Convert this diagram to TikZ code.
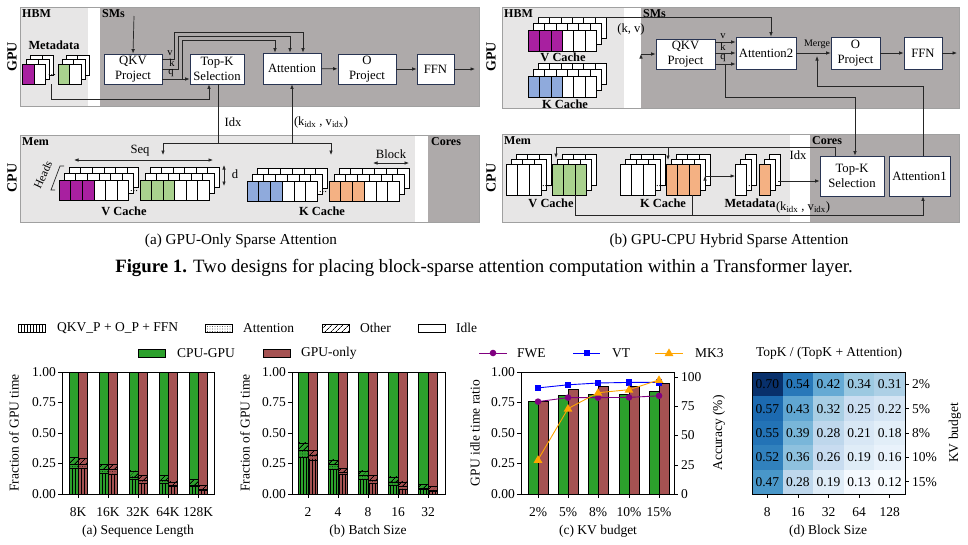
\documentclass[tikz,border=0pt]{standalone}
\usepackage{fontspec}
\setmainfont{Liberation Serif}
\usetikzlibrary{arrows.meta,patterns.meta}

\definecolor{gpudark}{RGB}{174,170,170}
\definecolor{memlight}{RGB}{231,230,230}
\definecolor{frameline}{RGB}{160,160,160}
\definecolor{boxline}{RGB}{40,52,82}
\definecolor{vpurple}{RGB}{168,32,160}
\definecolor{vgreen}{RGB}{169,209,142}
\definecolor{vblue}{RGB}{143,170,220}
\definecolor{vorange}{RGB}{244,177,131}
\definecolor{cpugpu}{RGB}{44,160,44}
\definecolor{gpuonly}{RGB}{165,82,82}
\definecolor{fwecol}{RGB}{128,0,128}
\definecolor{vtcol}{RGB}{0,0,255}
\definecolor{mkcol}{RGB}{255,165,0}

\tikzset{
  blk/.style={draw=boxline, fill=white, line width=0.8pt, align=center, inner sep=0pt, font=\fontsize{12.7}{15}\selectfont},
  tag/.style={font=\bfseries\fontsize{12}{12}\selectfont, inner sep=0pt},
  boldlbl/.style={font=\bfseries\fontsize{12.4}{13}\selectfont, inner sep=0pt},
  sidelbl/.style={font=\bfseries\fontsize{14}{14}\selectfont, rotate=90, inner sep=0pt},
  wire/.style={line width=0.7pt, draw=black!85},
  cell/.style={draw=black, line width=0.5pt},
  smalltxt/.style={font=\fontsize{10.5}{11}\selectfont, inner sep=0pt},
  plaintxt/.style={font=\fontsize{12.6}{13}\selectfont, inner sep=0pt},
  tickfont/.style={font=\fontsize{13.5}{14}\selectfont, inner sep=0pt},
  frameax/.style={draw=black, line width=0.8pt},
  barline/.style={draw=black, line width=0.5pt},
  hqkv/.style={pattern={Lines[angle=90,distance=3pt,line width=0.9pt]}},
  hatt/.style={pattern={Dots[distance=2.5pt,radius=0.45pt]}},
  hoth/.style={pattern={Lines[angle=45,distance=4pt,line width=0.8pt]}},
}

% stack of cache blocks: x, y, cell width, cell height, layer dx, layer dy, front colours
\newcommand{\cachestack}[7]{%
  \foreach \lay in {2,1}{%
    \foreach \cc [count=\i from 0] in {#7}{%
      \draw[cell,fill=white] ({#1+\i*#3+\lay*#5},{#2-\lay*#6}) rectangle +(#3,#4);
    }%
  }%
  \foreach \cc [count=\i from 0] in {#7}{%
    \draw[cell,fill=\cc] ({#1+\i*#3},{#2}) rectangle +(#3,#4);
  }%
}

% stacked bar: x0, x1, colour, qkv top, attention top, other top
\newcommand{\stackbar}[6]{%
  \fill[#3] ({#1},494) rectangle ({#2},372);
  \path[hqkv] ({#1},494) rectangle ({#2},{494-122*#4});
  \path[hatt] ({#1},{494-122*#4}) rectangle ({#2},{494-122*#5});
  \path[hoth] ({#1},{494-122*#5}) rectangle ({#2},{494-122*#6});
  \draw[barline] ({#1},494) rectangle ({#2},372);
  \draw[barline] ({#1},{494-122*#4}) -- ({#2},{494-122*#4});
  \draw[barline] ({#1},{494-122*#5}) -- ({#2},{494-122*#5});
  \draw[barline] ({#1},{494-122*#6}) -- ({#2},{494-122*#6});
}

\newcommand{\mkcirc}[2]{\fill[fwecol] (#1,#2) circle (3.3);}
\newcommand{\mksq}[2]{\fill[vtcol] ({#1-3.3},{#2-3.3}) rectangle +(6.6,6.6);}
\newcommand{\mktri}[2]{\fill[mkcol] (#1,{#2-4.6}) -- ({#1+4.4},{#2+3}) -- ({#1-4.4},{#2+3}) -- cycle;}

\begin{document}
\begin{tikzpicture}[x=1pt,y=-1pt,>={Latex[length=4.5pt,width=3.6pt]}]
    \useasboundingbox (0,0) rectangle (968,544);

    % ---------------- (a) GPU-only ----------------
    \fill[memlight] (20,7) rectangle (88,106);
    \fill[gpudark] (100,7) rectangle (479,106);
    \draw[frameline] (20,7) rectangle (479,106);
    \fill[memlight] (20,135) rectangle (415,222);
    \fill[gpudark] (428,135) rectangle (479,222);
    \draw[frameline] (20,135) rectangle (479,222);

    \node[sidelbl] (gpua) at (12,57) {GPU};
    \node[sidelbl] (cpua) at (12,178) {CPU};
    \node[tag, anchor=north west] (hbma) at (22,9) {HBM};
    \node[tag, anchor=north west] (smsa) at (102,9) {SMs};
    \node[tag, anchor=north west] (mema) at (22,137) {Mem};
    \node[tag, anchor=north west] (coresa) at (431,137) {Cores};
    \node[boldlbl] (metalbl) at (54,45) {Metadata};

    \cachestack{22}{64}{11.8}{20}{4}{4.5}{vpurple,white}
    \cachestack{58}{64}{11.5}{20}{4}{4.5}{vgreen,white}
    \node[smalltxt] (mdots) at (52,75) {...};
    \coordinate (meta) at (51,84);

    \node[blk, minimum width=58pt, minimum height=30pt] (qkv) at (133,69) {QKV\\Project};
    \node[blk, minimum width=54pt, minimum height=30pt] (topk) at (217,69) {Top-K\\Selection};
    \node[blk, minimum width=58pt, minimum height=31pt] (attn) at (292,68.5) {Attention};
    \node[blk, minimum width=58pt, minimum height=30pt] (oproj) at (367,69) {O\\Project};
    \node[blk, minimum width=37pt, minimum height=30pt] (ffn) at (435.5,69) {FFN};
    \coordinate (ina) at (134,16);
    \coordinate (outa) at (475,69);

    \draw[wire,->] (ina) -- (qkv.north);
    \draw[wire,->] ([yshift=10pt]qkv.east) -- ++(12,0) -- ++(0,-27) -| ([xshift=11pt]attn.north);
    \draw[wire,->] (qkv.east) -- ++(16,0) -- ++(0,-33) -| ([xshift=-2pt]attn.north);
    \draw[wire,->] ([yshift=-10pt]qkv.east) -- ([yshift=-10pt]topk.west);
    \draw[wire,->] ([xshift=20pt,yshift=-10pt]qkv.east) -- ++(0,-39) -| ([xshift=-17pt]attn.north);
    \node[smalltxt] (lva) at (170,53) {v};
    \node[smalltxt] (lka) at (172,63) {k};
    \node[smalltxt] (lqa) at (171,73) {q};
    \draw[wire,->] (meta) -- ++(0,15) -| ([xshift=-8pt]topk.south);
    \path [wire,->] (attn) edge (oproj);
    \path [wire,->] (oproj) edge (ffn);
    \path [wire,->] (ffn) edge (outa);

    \draw[wire] ([xshift=1pt]topk.south) -- ++(0,59) coordinate (split);
    \coordinate (vtgt) at (163,155);
    \coordinate (ktgt) at (331,155);
    \draw[wire,->] (split) -| (vtgt);
    \draw[wire,->] (split) -| (ktgt);
    \draw[wire,->] (attn.south |- split) -- (attn.south);
    \node[plaintxt] (idxa) at (233,122) {Idx};
    \node[plaintxt] (kva) at (321,122) {(k\textsubscript{idx} , v\textsubscript{idx})};

    % CPU caches
    \cachestack{59}{180}{11.6}{20}{5}{6.5}{vpurple,vpurple,vpurple,white,white,white}
    \cachestack{140}{180}{11.5}{20}{5}{6.5}{vgreen,vgreen,vgreen,white,white,white}
    \node[smalltxt] (vdots) at (134,191) {...};
    \cachestack{247}{181}{11.7}{20}{5}{6.5}{vblue,vblue,vblue,white,white,white}
    \cachestack{329}{181}{11.7}{20}{5}{6.5}{vorange,vorange,vorange,white,white,white}
    \node[smalltxt] (kdots) at (323,192) {...};
    \node[boldlbl] (vca) at (124,211) {V Cache};
    \node[boldlbl] (kca) at (322,211) {K Cache};

    \coordinate (seql) at (74,160);
    \coordinate (seqr) at (213,160);
    \draw[wire,<->] (seql) -- (seqr);
    \node[plaintxt] (seq) at (140,151) {Seq};
    \coordinate (dtop) at (224,165);
    \coordinate (dbot) at (224,186);
    \draw[wire,<->] (dtop) -- (dbot);
    \node[plaintxt] (dlbl) at (235,174) {d};
    \coordinate (blkl) at (373,163);
    \coordinate (blkr) at (409,163);
    \draw[wire,<->] (blkl) -- (blkr);
    \node[plaintxt] (blklbl) at (391,154) {Block};
    \draw[wire] (64,166) -- (60,166) -- (51,190) -- (55,190);
    \node[plaintxt, font=\fontsize{11.5}{12}\selectfont, rotate=65] (heads) at (43,175) {Heads};

    % ---------------- (b) GPU-CPU hybrid ----------------
    \fill[memlight] (502,7) rectangle (624,108);
    \fill[gpudark] (641,7) rectangle (959,108);
    \draw[frameline] (502,7) rectangle (959,108);
    \fill[memlight] (502,134) rectangle (790,222);
    \fill[gpudark] (810,134) rectangle (959,222);
    \draw[frameline] (502,134) rectangle (959,222);

    \node[sidelbl] (gpub) at (491,57) {GPU};
    \node[sidelbl] (cpub) at (491,178) {CPU};
    \node[tag, anchor=north west] (hbmb) at (504,9) {HBM};
    \node[tag, anchor=north west] (smsb) at (643,9) {SMs};
    \node[tag, anchor=north west] (memb) at (504,136) {Mem};
    \node[tag, anchor=north west] (coresb) at (812,136) {Cores};

    \cachestack{528}{30}{11.4}{21}{5}{6.5}{vpurple,vpurple,vpurple,white,white,white}
    \cachestack{528}{76}{11.4}{21}{5}{6.5}{vblue,vblue,vblue,white,white,white}
    \node[boldlbl] (vcb) at (563,57) {V Cache};
    \node[boldlbl] (kcb) at (565,104) {K Cache};
    \node[plaintxt] (kvb) at (631,29) {(k, v)};

    \node[blk, minimum width=59pt, minimum height=30pt] (qkv2) at (685.5,54) {QKV\\Project};
    \node[blk, minimum width=60pt, minimum height=32pt] (attn2) at (766,53) {Attention2};
    \node[blk, minimum width=49pt, minimum height=32pt] (oproj2) at (855.5,53) {O\\Project};
    \node[blk, minimum width=38pt, minimum height=32pt] (ffn2) at (923,53) {FFN};
    \node[blk, minimum width=64pt, minimum height=40pt] (topk2) at (852,176) {Top-K\\Selection};
    \node[blk, minimum width=61pt, minimum height=40pt] (attn1) at (919.5,176) {Attention1};

    \coordinate (vc2top) at (538,17);
    \coordinate (inb) at (641,54);
    \coordinate (outb) at (957,53);
    \coordinate (merge) at (817,56);
    \draw[wire,->] (vc2top) -| ([xshift=5pt]attn2.north);
    \path [wire,->] (inb) edge (qkv2.west);
    \draw[wire,->] ([yshift=12pt]qkv2.east) -- ([yshift=12pt]qkv2.east -| attn2.west);
    \draw[wire,->] ([yshift=1pt]qkv2.east) -- ([yshift=1pt]qkv2.east -| attn2.west);
    \draw[wire,->] ([yshift=-10pt]qkv2.east) -- ([yshift=-10pt]qkv2.east -| attn2.west);
    \node[smalltxt] (lvb) at (723,36) {v};
    \node[smalltxt] (lkb) at (723,47) {k};
    \node[smalltxt] (lqb) at (723,58) {q};
    \draw[wire,->] ([xshift=10pt,yshift=-10pt]qkv2.east) -- ++(0,33) -| ([xshift=3pt]topk2.north);
    \path [wire,->] (attn2) edge (oproj2);
    \path [wire,->] (oproj2) edge (ffn2);
    \path [wire,->] (ffn2) edge (outb);
    \node[font=\fontsize{10}{10}\selectfont, inner sep=0pt] (mergelbl) at (817,44) {Merge};
    \draw[wire,->] ([xshift=3.5pt]attn1.north) -- ++(0,-69) -| (merge);

    % CPU caches (b)
    \cachestack{506}{164}{11.7}{31}{5}{5}{white,white,white}
    \cachestack{552}{164}{11.5}{31}{5}{5}{vgreen,vgreen,vgreen}
    \node[smalltxt] (vdotsb) at (546,186) {...};
    \cachestack{620}{164}{11.7}{31}{5}{5}{white,white,white}
    \cachestack{666}{164}{11.5}{31}{5}{5}{vorange,vorange,vorange}
    \node[smalltxt] (kdotsb) at (660,186) {...};
    \cachestack{735}{164}{11}{31}{5}{5}{white}
    \cachestack{759}{164}{11}{31}{5}{5}{vorange}
    \node[smalltxt] (mdotsb) at (752,186) {...};
    \node[boldlbl] (vcc) at (551,203) {V Cache};
    \node[boldlbl] (kcc) at (663,203) {K Cache};
    \node[boldlbl] (mdb) at (750,203) {Metadata};
    \node[plaintxt] (kvidxb) at (803,207) {(k\textsubscript{idx} , v\textsubscript{idx})};

    \coordinate (kcr) at (705,176);
    \coordinate (mdl) at (735,176);
    \coordinate (mdr) at (778,181);
    \path [wire,->] (kcr) edge (mdl);
    \draw[wire,->] (mdr) -- ([yshift=-5pt]topk2.west);
    \coordinate (vc3) at (556,158);
    \coordinate (kc3) at (668,160);
    \draw[wire,->] ([xshift=-17pt]topk2.north) -- ++(0,-8) coordinate (idxy) -| (vc3);
    \draw[wire,->] (kc3 |- idxy) -- (kc3);
    \node[plaintxt] (idxb) at (798,155) {Idx};
    \coordinate (vc4) at (575,195);
    \coordinate (kc4) at (692,195);
    \draw[wire,->] (vc4) -- ++(0,20) -| ([xshift=3.5pt]attn1.south);
    \draw[wire] (kc4) -- ++(0,20);

    % ---------------- captions ----------------
    \node[font=\fontsize{15.2}{16}\selectfont] (capa) at (241,241) {(a) GPU-Only Sparse Attention};
    \node[font=\fontsize{15.2}{16}\selectfont] (capb) at (729,241) {(b) GPU-CPU Hybrid Sparse Attention};
    \node[font=\fontsize{18.8}{20}\selectfont] (fig) at (484,268) {\textbf{Figure 1.} Two designs for placing block-sparse attention computation within a Transformer layer.};

    % ---------------- legends ----------------
    \draw[barline, hqkv] (18,324) rectangle (45,332);
    \node[tickfont, anchor=west] (lgqkv) at (57,328) {QKV\_P + O\_P + FFN};
    \draw[barline, hatt] (205,324) rectangle (232,332);
    \node[tickfont, anchor=west] (lgatt) at (243,328) {Attention};
    \draw[barline, hoth] (322,324) rectangle (349,332);
    \node[tickfont, anchor=west] (lgoth) at (360,328) {Other};
    \draw[barline, fill=white] (418,324) rectangle (445,332);
    \node[tickfont, anchor=west] (lgidle) at (456,328) {Idle};
    \draw[barline, fill=cpugpu] (138,349) rectangle (165,357);
    \node[tickfont, anchor=west] (lgcg) at (177,353) {CPU-GPU};
    \draw[barline, fill=gpuonly] (263,349) rectangle (290,357);
    \node[tickfont, anchor=west] (lggo) at (301,353) {GPU-only};
    \draw[fwecol, line width=0.9pt] (479,353) -- (507,353);
    \mkcirc{493}{353}
    \node[tickfont, anchor=west] (lgfwe) at (517,353) {FWE};
    \draw[vtcol, line width=0.9pt] (573,353) -- (600,353);
    \mksq{587}{353}
    \node[tickfont, anchor=west] (lgvt) at (612,353) {VT};
    \draw[mkcol, line width=0.9pt] (655,353) -- (683,353);
    \mktri{669}{353}
    \node[tickfont, anchor=west] (lgmk) at (695,353) {MK3};
    \node[tickfont] (lgheat) at (829,353) {TopK / (TopK + Attention)};

    % ---------------- chart (a) ----------------
    \foreach \xc/\ga/\gb/\gc/\ra/\rb/\rc in {78/0.21/0.24/0.30/0.21/0.24/0.29,
        108/0.17/0.20/0.24/0.16/0.20/0.24, 138/0.12/0.14/0.19/0.09/0.11/0.15,
        168/0.09/0.11/0.15/0.06/0.07/0.10, 198/0.06/0.07/0.12/0.03/0.04/0.07}{
      \stackbar{\xc-9}{\xc}{cpugpu}{\ga}{\gb}{\gc}
      \stackbar{\xc}{\xc+9}{gpuonly}{\ra}{\rb}{\rc}
    }
    \draw[frameax] (62,372) rectangle (214,494);
    \foreach \xc/\lb [count=\i] in {78/8K,108/16K,138/32K,168/64K,198/128K}{
      \draw[frameax] (\xc,494) -- (\xc,498);
      \node[tickfont] (xa\i) at (\xc,512) {\lb};
    }
    \foreach \v/\lb [count=\i] in {0/0.00,0.25/0.25,0.5/0.50,0.75/0.75,1/1.00}{
      \draw[frameax] (58,{494-122*\v}) -- (62,{494-122*\v});
      \node[tickfont, anchor=east] (ya\i) at (56,{494-122*\v}) {\lb};
      \draw[frameax] (288,{494-122*\v}) -- (292,{494-122*\v});
      \node[tickfont, anchor=east] (yb\i) at (286,{494-122*\v}) {\lb};
      \draw[frameax] (517,{494-122*\v}) -- (521,{494-122*\v});
      \node[tickfont, anchor=east] (yc\i) at (515,{494-122*\v}) {\lb};
    }
    \node[tickfont, rotate=90] (ylba) at (14,433) {Fraction of GPU time};
    \node[tickfont] (capca) at (138,531) {(a) Sequence Length};

    % ---------------- chart (b) ----------------
    \foreach \xc/\ga/\gb/\gc/\ra/\rb/\rc in {308/0.30/0.36/0.42/0.28/0.32/0.36,
        338/0.20/0.24/0.28/0.16/0.18/0.21, 368/0.12/0.15/0.19/0.09/0.11/0.15,
        398/0.07/0.10/0.14/0.04/0.06/0.10, 428/0.04/0.05/0.08/0.02/0.03/0.06}{
      \stackbar{\xc-10}{\xc}{cpugpu}{\ga}{\gb}{\gc}
      \stackbar{\xc}{\xc+9}{gpuonly}{\ra}{\rb}{\rc}
    }
    \draw[frameax] (292,372) rectangle (445,494);
    \foreach \xc/\lb [count=\i] in {308/2,338/4,368/8,398/16,428/32}{
      \draw[frameax] (\xc,494) -- (\xc,498);
      \node[tickfont] (xb\i) at (\xc,512) {\lb};
    }
    \node[tickfont, rotate=90] (ylbb) at (245,433) {Fraction of GPU time};
    \node[tickfont] (capcb) at (368,531) {(b) Batch Size};

    % ---------------- chart (c) ----------------
    \foreach \xc/\gv/\rv in {538/0.76/0.757, 568/0.81/0.855, 598/0.82/0.885, 629/0.82/0.88, 659/0.84/0.905}{
      \draw[barline, fill=cpugpu] ({\xc-10},494) rectangle (\xc,{494-122*\gv});
      \draw[barline, fill=gpuonly] (\xc,494) rectangle ({\xc+10},{494-122*\rv});
    }
    \draw[fwecol, line width=0.9pt] plot coordinates {(538,401.6) (568,397.6) (598,397.6) (629,397.4) (659,395.8)};
    \draw[vtcol, line width=0.9pt] plot coordinates {(538,387.9) (568,384.8) (598,383) (629,382.4) (659,382.4)};
    \draw[mkcol, line width=0.9pt] plot coordinates {(538,459.8) (568,408.6) (598,392.7) (629,389.7) (659,379.9)};
    \foreach \xc/\fv/\vv/\mv in {538/401.6/387.9/459.8, 568/397.6/384.8/408.6, 598/397.6/383/392.7, 629/397.4/382.4/389.7, 659/395.8/382.4/379.9}{
      \mkcirc{\xc}{\fv}
      \mksq{\xc}{\vv}
      \mktri{\xc}{\mv}
    }
    \draw[frameax] (521,372) rectangle (674,494);
    \foreach \xc/\lb [count=\i] in {538/2\%,568/5\%,598/8\%,629/10\%,659/15\%}{
      \draw[frameax] (\xc,494) -- (\xc,498);
      \node[tickfont] (xc\i) at (\xc,512) {\lb};
    }
    \foreach \yy/\lb [count=\i] in {494/0,465/25,435.5/50,406/75,377/100}{
      \draw[frameax] (674,\yy) -- (678,\yy);
      \node[tickfont, anchor=west] (yr\i) at (681,\yy) {\lb};
    }
    \node[tickfont, rotate=90] (ylbc) at (475,433) {GPU idle time ratio};
    \node[tickfont, rotate=90] (ylbr) at (719,433) {Accuracy (\%)};
    \node[tickfont] (capcc) at (598,531) {(c) KV budget};

    % ---------------- chart (d) ----------------
    \foreach \hc/\hr/\v/\cr/\cg/\cb in {0/0/0.70/8/48/107, 1/0/0.54/40/120/185, 2/0/0.42/101/170/212, 3/0/0.34/156/201/225, 4/0/0.31/173/208/230,
        0/1/0.57/28/106/176, 1/1/0.43/96/166/210, 2/1/0.32/168/206/228, 3/1/0.25/203/222/241, 4/1/0.22/213/229/244,
        0/2/0.55/35/115/182, 1/2/0.39/121/182/217, 2/2/0.28/190/215/236, 3/2/0.21/216/231/245, 4/2/0.18/226/238/248,
        0/3/0.52/49/129/189, 1/3/0.36/142/193/222, 2/3/0.26/200/220/240, 3/3/0.19/223/236/247, 4/3/0.16/233/242/251,
        0/4/0.47/73/151/201, 1/4/0.28/190/215/236, 2/4/0.19/223/236/247, 3/4/0.13/244/249/254, 4/4/0.12/247/251/255}{
      \fill[fill={rgb,255:red,\cr;green,\cg;blue,\cb}] ({752+\hc*30.6},{372+\hr*24.4}) rectangle +(30.6,24.4);
      \node[tickfont] (hv\hc\hr) at ({767.3+\hc*30.6},{384.2+\hr*24.4}) {\v};
    }
    \draw[frameax] (752,372) rectangle (905,494);
    \foreach \lb [count=\i from 0] in {8,16,32,64,128}{
      \draw[frameax] ({767.3+\i*30.6},494) -- ({767.3+\i*30.6},498);
      \node[tickfont] (xd\i) at ({767.3+\i*30.6},512) {\lb};
    }
    \foreach \lb [count=\i from 0] in {2\%,5\%,8\%,10\%,15\%}{
      \draw[frameax] (905,{384.2+\i*24.4}) -- (909,{384.2+\i*24.4});
      \node[tickfont, anchor=west] (yd\i) at (912,{384.2+\i*24.4}) {\lb};
    }
    \node[tickfont, rotate=90] (ylbd) at (955,433) {KV budget};
    \node[tickfont] (capcd) at (828,531) {(d) Block Size};
\end{tikzpicture}
\end{document}
